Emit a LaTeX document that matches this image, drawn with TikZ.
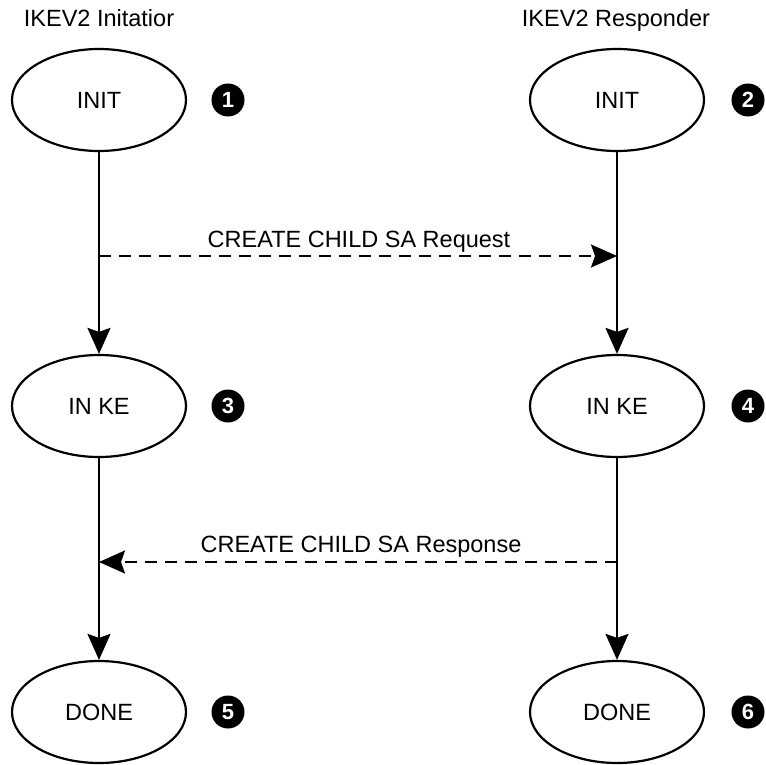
\documentclass[tikz,border=0pt]{standalone}
\usepackage{fontspec}
\setmainfont{Liberation Sans}
\usetikzlibrary{shapes.geometric,arrows.meta}
\begin{document}
\begin{tikzpicture}[x=1pt,y=-1pt,
  state/.style={ellipse, draw, line width=2.2pt, minimum width=174pt, minimum height=102pt, inner sep=0pt, font=\fontsize{23.5pt}{27pt}\selectfont},
  numb/.style={circle, fill=black, minimum size=33pt, inner sep=0pt, text=white, font=\fontsize{22pt}{24pt}\selectfont\bfseries},
  lbl/.style={anchor=base, inner sep=0pt, font=\fontsize{23.5pt}{27pt}\selectfont},
  flow/.style={line width=2.2pt, -{Stealth[length=26pt,width=23pt,inset=4pt]}},
  msg/.style={line width=2.2pt, dash pattern=on 12pt off 8pt, -{Stealth[length=26pt,width=23pt,inset=4pt]}}
]
\useasboundingbox (0,0) rectangle (765,765);

\node[lbl] (tl) at (99,27) {IKEV2 Initatior};
\node[lbl] (tr) at (616,27) {IKEV2 Responder};

\node[state] (i1) at (99,100) {INIT};
\node[state] (r1) at (617,100) {INIT};
\node[state] (i2) at (99,406) {IN KE};
\node[state] (r2) at (617,406) {IN KE};
\node[state] (i3) at (99,712) {DONE};
\node[state] (r3) at (617,712) {DONE};

\node[numb] (n1) at (228,100) {1};
\node[numb] (n2) at (748,100) {2};
\node[numb] (n3) at (228,406) {3};
\node[numb] (n4) at (748,406) {4};
\node[numb] (n5) at (228,712) {5};
\node[numb] (n6) at (748,712) {6};

\draw[flow] (i1) -- (i2);
\draw[flow] (i2) -- (i3);
\draw[flow] (r1) -- (r2);
\draw[flow] (r2) -- (r3);

\coordinate (qa) at (99,256);
\coordinate (qb) at (617,256);
\coordinate (sa) at (617,562);
\coordinate (sb) at (99,562);
\draw[msg] (qa) -- (qb);
\draw[msg] (sa) -- (sb);

\node[lbl] (lq) at (359,247) {CREATE CHILD SA Request};
\node[lbl] (ls) at (361,552) {CREATE CHILD SA Response};
\end{tikzpicture}
\end{document}
